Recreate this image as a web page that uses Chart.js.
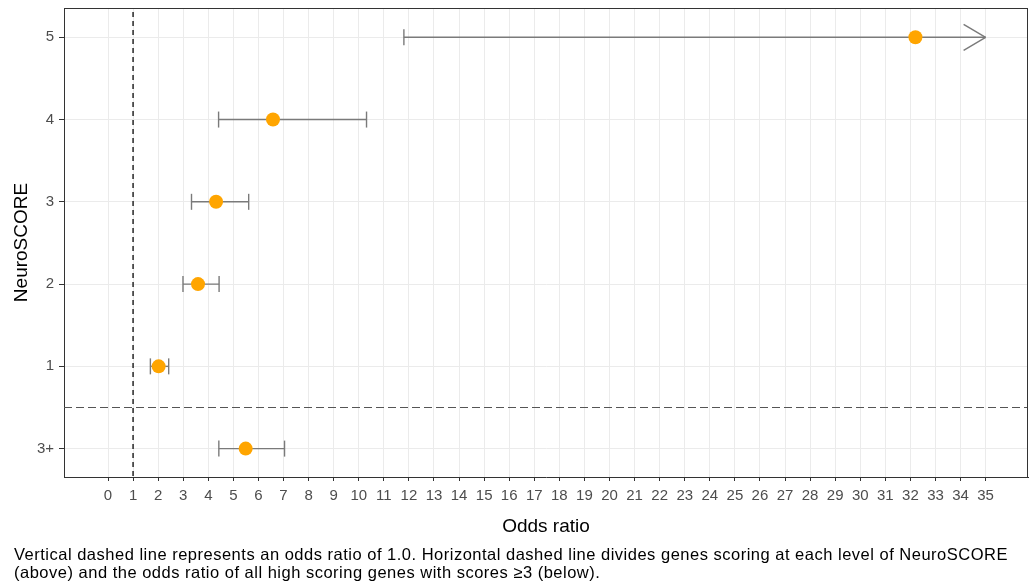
<!DOCTYPE html>
<html><head><meta charset="utf-8">
<script src="https://cdn.jsdelivr.net/npm/chart.js@4"></script>
<style>
html,body{margin:0;padding:0;background:#fff;}
#wrap{position:relative;width:1029px;height:587px;overflow:hidden;}
canvas{position:absolute;left:0;top:0;}
#caption{position:absolute;left:14px;top:545px;font-family:"Liberation Sans",Arial,sans-serif;font-size:16.5px;letter-spacing:0.5px;line-height:18px;color:#000;white-space:nowrap;}
</style></head><body>
<div id="wrap"><canvas id="c" width="1029" height="587"></canvas>
<div id="caption">Vertical dashed line represents an odds ratio of 1.0. Horizontal dashed line divides genes scoring at each level of NeuroSCORE<br>(above) and the odds ratio of all high scoring genes with scores ≥3 (below).</div></div>
<script>
// ---- data ----
const rowLabels    = ['3+', '1', '2', '3', '4', '5'];
const rowPositions = [0, 1, 2, 3, 4, 5];
const oddsRatio    = [5.49, 2.02, 3.59, 4.31, 6.58, 32.2];
const ciLower      = [4.42, 1.69, 2.99, 3.33, 4.41, 11.80];
const ciUpper      = [7.04, 2.42, 4.43, 5.61, 10.31, 35];
const ciTruncated  = [false, false, false, false, false, true];
const xTickValues  = [0,1,2,3,4,5,6,7,8,9,10,11,12,13,14,15,16,17,18,19,20,21,22,23,24,25,26,27,28,29,30,31,32,33,34,35];
const refOddsRatio = 1;
const groupDivider = 0.5;

const FONT = '"Liberation Sans", Arial, sans-serif';

function seg(ctx, x1, y1, x2, y2){ ctx.beginPath(); ctx.moveTo(x1,y1); ctx.lineTo(x2,y2); ctx.stroke(); }

const overlay = {
  id: 'overlay',
  beforeDatasetsDraw(chart){
    const {ctx, chartArea: a, scales: {x, y}} = chart;
    ctx.save();
    ctx.beginPath(); ctx.rect(a.left, a.top, a.right - a.left, a.bottom - a.top); ctx.clip();
    // horizontal divider
    ctx.strokeStyle = '#555'; ctx.lineWidth = 1; ctx.setLineDash([8, 4]);
    const yd = Math.round(y.getPixelForValue(groupDivider)) + 0.5;
    seg(ctx, a.left, yd, a.right, yd);
    // vertical reference
    ctx.strokeStyle = '#333'; ctx.lineWidth = 1.6; ctx.setLineDash([5, 4]);
    const xr = x.getPixelForValue(refOddsRatio);
    seg(ctx, xr, a.top + 4, xr, a.bottom);
    ctx.setLineDash([]);
    // error bars
    ctx.strokeStyle = '#7a7a7a'; ctx.lineWidth = 1.4;
    rowPositions.forEach((r, i) => {
      const py = y.getPixelForValue(r);
      const x1 = x.getPixelForValue(ciLower[i]);
      const x2 = x.getPixelForValue(ciUpper[i]);
      seg(ctx, x1, py, x2, py);
      seg(ctx, x1, py - 8, x1, py + 8);
      if (ciTruncated[i]) {
        seg(ctx, x2 - 22, py - 13, x2, py);
        seg(ctx, x2 - 22, py + 13, x2, py);
      } else {
        seg(ctx, x2, py - 8, x2, py + 8);
      }
    });
    ctx.restore();
  },
  afterDraw(chart){
    const {ctx, chartArea: a} = chart;
    ctx.save();
    ctx.strokeStyle = '#333'; ctx.lineWidth = 1;
    seg(ctx, a.left, a.top + 0.5, a.right, a.top + 0.5);
    seg(ctx, a.right - 0.5, a.top, a.right - 0.5, a.bottom);
    ctx.restore();
  }
};

new Chart(document.getElementById('c'), {
  type: 'scatter',
  data: {
    datasets: [{
      data: rowPositions.map((r, i) => ({x: oddsRatio[i], y: r})),
      backgroundColor: '#FFA500',
      borderColor: '#FFA500',
      borderWidth: 0,
      pointRadius: 7,
      pointHoverRadius: 7
    }]
  },
  options: {
    responsive: false,
    animation: false,
    devicePixelRatio: 1,
    events: [],
    layout: {autoPadding: false, padding: {left: 0, top: 8, right: 1, bottom: 40}},
    plugins: {legend: {display: false}, tooltip: {enabled: false}},
    scales: {
      x: {
        type: 'linear', min: -1.755, max: 36.69,
        afterBuildTicks: s => { s.ticks = xTickValues.map(v => ({value: v})); },
        afterFit: s => { s.height = 70; s.paddingLeft = 0; s.paddingRight = 0; },
        grid: {color: '#ebebeb', lineWidth: 1, tickColor: '#333', tickLength: 4},
        border: {display: true, color: '#333', width: 1},
        ticks: {color: '#4d4d4d', font: {family: FONT, size: 15}, padding: 6, maxRotation: 0, autoSkip: false,
                callback: (v) => String(v)},
        title: {display: true, text: 'Odds ratio', color: '#000', font: {family: FONT, size: 19}, padding: {top: 0, bottom: 9}}
      },
      y: {
        type: 'linear', min: -0.345, max: 5.356,
        afterBuildTicks: s => { s.ticks = rowPositions.map(v => ({value: v})); },
        afterFit: s => { s.width = 64; s.paddingTop = 0; s.paddingBottom = 0; },
        grid: {color: '#ebebeb', lineWidth: 1, tickColor: '#333', tickLength: 5},
        border: {display: true, color: '#333', width: 1},
        ticks: {color: '#4d4d4d', font: {family: FONT, size: 15}, padding: 5, autoSkip: false,
                callback: (v, idx) => rowLabels[idx]},
        title: {display: true, text: 'NeuroSCORE', color: '#000', font: {family: FONT, size: 19}, padding: {top: 10, bottom: 0}}
      }
    }
  },
  plugins: [overlay]
});
</script>
</body></html>
